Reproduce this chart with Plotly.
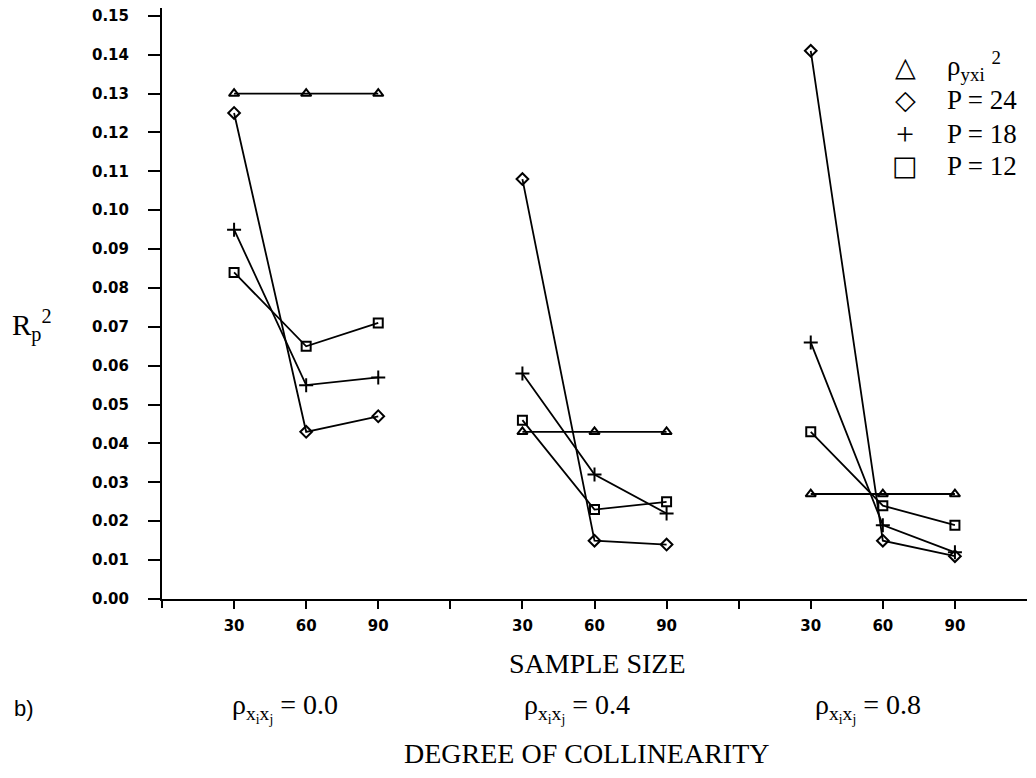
import plotly.graph_objects as go

# ---- data ----
sample_sizes = [30, 60, 90]
collinearity = ["0.0", "0.4", "0.8"]
series_names = ["ρyxi²", "P = 24", "P = 18", "P = 12"]
rho_yxi2 = [[0.130, 0.130, 0.130], [0.043, 0.043, 0.043], [0.027, 0.027, 0.027]]
p24 = [[0.125, 0.043, 0.047], [0.108, 0.015, 0.014], [0.141, 0.015, 0.011]]
p18 = [[0.095, 0.055, 0.057], [0.058, 0.032, 0.022], [0.066, 0.019, 0.012]]
p12 = [[0.084, 0.065, 0.071], [0.046, 0.023, 0.025], [0.043, 0.024, 0.019]]
y_ticks = [i / 100 for i in range(16)]
y_ticktext = ["%.2f" % v for v in y_ticks]

# category positions on the x axis: groups separated by one empty slot
x_pos, x_txt = [], []
for g in range(len(collinearity)):
    for k, n in enumerate(sample_sizes):
        x_pos.append(g * 4 + 1 + k)
        x_txt.append(str(n))
    if g < len(collinearity) - 1:
        x_pos.append(g * 4 + 4)
        x_txt.append("")


def flat(groups):
    xs, ys = [], []
    for g, vals in enumerate(groups):
        for k, v in enumerate(vals):
            xs.append(g * 4 + 1 + k)
            ys.append(v)
        xs.append(None)
        ys.append(None)
    return xs, ys


symbols = ["triangle-up-open", "diamond-open", "cross-thin-open", "square-open"]
sizes = [9, 9, 10, 9]
fig = go.Figure()
for name, data, sym, sz in zip(series_names, [rho_yxi2, p24, p18, p12], symbols, sizes):
    xs, ys = flat(data)
    fig.add_trace(go.Scatter(
        x=xs, y=ys, mode="lines+markers", name=name, connectgaps=False,
        line=dict(color="black", width=1.8),
        marker=dict(symbol=sym, size=sz, color="black",
                    line=dict(color="black", width=2)),
        showlegend=False,
    ))

# page body has an 8px margin, so the figure is offset by (8, 8) on screen
OFF = 8
W, H = 1036 - OFF, 778 - OFF
L, R, T, B = 162 - OFF, 9, 0, 179
pw, ph = W - L - R, H - T - B


def px(xs):  # screen x -> paper x
    return (xs - OFF - L) / pw


def py(ys):  # screen y -> paper y
    return (H - B - (ys - OFF)) / ph


serif = "Liberation Serif"
ann = []
# legend (drawn as text)
leg_syms = ["△", "◇", "+", "□"]
leg_txt = ["ρ<sub>yxi</sub> <sup>2</sup>", "P = 24", "P = 18", "P = 12"]
leg_y = [66, 100, 134, 166]
for s, t, yy in zip(leg_syms, leg_txt, leg_y):
    fs = 32 if s == "+" else 27
    fam = serif if s == "+" else "DejaVu Sans"
    ann.append(dict(x=px(905), y=py(yy), xref="paper", yref="paper", text=s,
                    showarrow=False, xanchor="center", yanchor="middle",
                    font=dict(family=fam, size=fs, color="black")))
    ann.append(dict(x=px(945), y=py(yy), xref="paper", yref="paper", text=t,
                    showarrow=False, xanchor="left", yanchor="middle",
                    font=dict(family=serif, size=27, color="black")))

ann.append(dict(x=px(10), y=py(325), xref="paper", yref="paper",
                text="R<sub>p</sub><sup>2</sup>", showarrow=False,
                xanchor="left", yanchor="middle",
                font=dict(family=serif, size=29, color="black")))
ann.append(dict(x=px(597), y=py(663), xref="paper", yref="paper",
                text="SAMPLE SIZE", showarrow=False, xanchor="center", yanchor="middle",
                font=dict(family=serif, size=28, color="black")))
ann.append(dict(x=px(12), y=py(708), xref="paper", yref="paper",
                text="b)", showarrow=False, xanchor="left", yanchor="middle",
                font=dict(family="Liberation Sans", size=22, color="black")))
for c, xc in zip(collinearity, [285, 577, 868]):
    ann.append(dict(x=px(xc), y=py(708), xref="paper", yref="paper",
                    text="ρ<sub>x<sub>i</sub>x<sub>j</sub></sub> = " + c,
                    showarrow=False, xanchor="center", yanchor="middle",
                    font=dict(family=serif, size=28, color="black")))
ann.append(dict(x=px(587), y=py(753), xref="paper", yref="paper",
                text="DEGREE OF COLLINEARITY", showarrow=False,
                xanchor="center", yanchor="middle",
                font=dict(family=serif, size=28, color="black")))

tickfont = dict(family="DejaVu Sans", size=15, color="black", weight="bold")
fig.update_layout(
    width=W, height=H, margin=dict(l=L, r=R, t=T, b=B, autoexpand=False),
    paper_bgcolor="white", plot_bgcolor="white",
    annotations=ann,
    xaxis=dict(range=[0, 12], tickvals=x_pos, ticktext=x_txt, showgrid=False,
               zeroline=False, showline=True, linecolor="black", linewidth=2,
               ticks="outside", ticklen=8, tickwidth=1.5, tickcolor="black",
               tickfont=tickfont, ticklabelstandoff=4),
    yaxis=dict(range=[0, 0.1520], tickvals=y_ticks, ticktext=y_ticktext,
               showgrid=False, zeroline=False, showline=True, linecolor="black",
               linewidth=2, ticks="outside", ticklen=12, tickwidth=1.5,
               tickcolor="black", tickfont=tickfont, ticklabelstandoff=16,
               ticklabeloverflow="allow"),
    shapes=[dict(type="line", xref="paper", yref="paper", x0=0, x1=0,
                 y0=-9 / ph, y1=0, line=dict(color="black", width=2))],
)
fig.write_html("out.html")
